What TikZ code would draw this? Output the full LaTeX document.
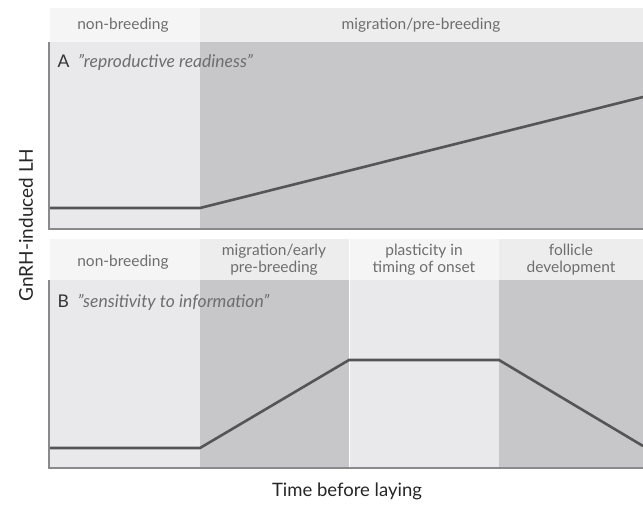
\documentclass[tikz,border=0pt]{standalone}
\usepackage{fontspec}
\setmainfont{Lato}
\definecolor{hdrA}{HTML}{F5F5F5}
\definecolor{hdrB}{HTML}{EDEDED}
\definecolor{bodyL}{HTML}{E9E9EB}
\definecolor{bodyD}{HTML}{C7C7C9}
\definecolor{axisc}{HTML}{8A8A8A}
\definecolor{curvec}{HTML}{555555}
\definecolor{labc}{HTML}{6E6E6E}
\begin{document}
\begin{tikzpicture}[x=1pt,y=-1pt,
  hdr/.style={font=\fontsize{15.5}{17}\selectfont, text=labc, align=center},
  ttl/.style={font=\fontsize{17.5}{20}\selectfont, anchor=west},
  axis/.style={draw=axisc, line width=2.2pt},
  curve/.style={draw=curvec, line width=2.6pt, line join=miter},
  axlab/.style={font=\fontsize{18.5}{21}\selectfont, text=black!85}]
\useasboundingbox (0,0) rectangle (643,504);
% ---------- panel A ----------
\fill[hdrA] (50,8) rectangle (200,42);
\fill[hdrB] (200,8) rectangle (643,42);
\fill[bodyL] (50,42) rectangle (200,229);
\fill[bodyD] (200,42) rectangle (643,229);
\node[hdr] (a1) at (123,25) {non-breeding};
\node[hdr] (a2) at (421,25) {migration/pre-breeding};
\node[ttl] (at) at (54,62) {\textcolor{black!80}{A}\hspace{0.5em}\textcolor{labc}{\itshape ''reproductive readiness''}};
\coordinate (ap0) at (50,208);
\coordinate (ap1) at (200,208);
\coordinate (ap2) at (643,97);
\draw[curve] (ap0) -- (ap1) -- (ap2);
\coordinate (aaxT) at (49,42);
\coordinate (aaxO) at (49,229);
\coordinate (aaxR) at (643,229);
\draw[axis] (aaxT) -- (aaxO) -- (aaxR);
% ---------- panel B ----------
\fill[hdrA] (50,239) rectangle (200,280);
\fill[hdrB] (200,239) rectangle (349,280);
\fill[hdrA] (349,239) rectangle (499,280);
\fill[hdrB] (499,239) rectangle (643,280);
\fill[bodyL] (50,280) rectangle (200,468);
\fill[bodyD] (200,280) rectangle (349,468);
\fill[bodyL] (349,280) rectangle (499,468);
\fill[bodyD] (499,280) rectangle (643,468);
\draw[white, line width=1pt] (349,239) -- (349,468);
\node[hdr] (b1) at (123,262) {non-breeding};
\node[hdr] (b2) at (274,260) {migration/early\\pre-breeding};
\node[hdr] (b3) at (424,260) {plasticity in\\timing of onset};
\node[hdr] (b4) at (571,260) {follicle\\development};
\node[ttl] (bt) at (54,302) {\textcolor{black!80}{B}\hspace{0.5em}\textcolor{labc}{\itshape ''sensitivity to information''}};
\coordinate (bp0) at (50,448);
\coordinate (bp1) at (200,448);
\coordinate (bp2) at (349,360);
\coordinate (bp3) at (499,360);
\coordinate (bp4) at (643,446);
\draw[curve] (bp0) -- (bp1) -- (bp2) -- (bp3) -- (bp4);
\coordinate (baxT) at (49,280);
\coordinate (baxO) at (49,468);
\coordinate (baxR) at (643,468);
\draw[axis] (baxT) -- (baxO) -- (baxR);
% ---------- axis labels ----------
\node[axlab, font=\fontsize{19}{21}\selectfont, rotate=90] (ylab) at (26,225) {GnRH-induced LH};
\node[axlab] (xlab) at (347,491) {Time before laying};
\end{tikzpicture}
\end{document}
